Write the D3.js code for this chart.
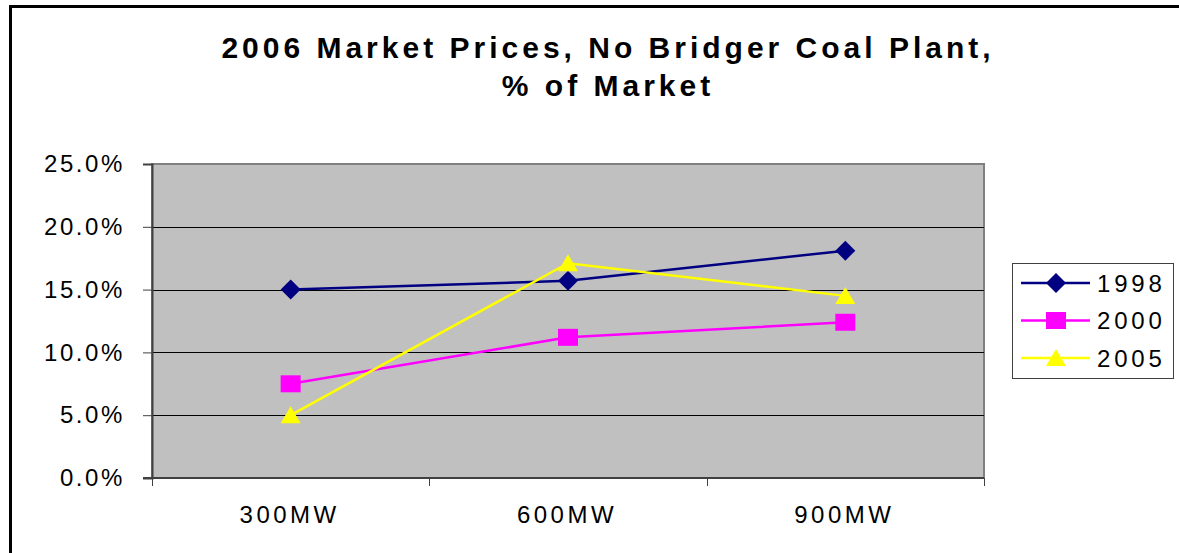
<!DOCTYPE html>
<html>
<head>
<meta charset="utf-8">
<script src="https://cdn.jsdelivr.net/npm/d3@7"></script>
<style>
  body { margin: 0; background: #fff; }
  text { font-family: "Liberation Sans", Arial, sans-serif; }
</style>
</head>
<body>
<script>
// Chart data
var categories = ["300MW", "600MW", "900MW"];
var seriesNames = ["1998", "2000", "2005"];
var values1998 = [0.150, 0.157, 0.181];
var values2000 = [0.075, 0.112, 0.124];
var values2005 = [0.050, 0.171, 0.145];
var yTicks = [0, 0.05, 0.10, 0.15, 0.20, 0.25];
var titleLines = ["2006 Market Prices, No Bridger Coal Plant,", "% of Market"];

var svgWidth = 1179;
var svgHeight = 553;

// plot area in pixels
var plot = { left: 152, top: 164, right: 984, bottom: 478 };

var svg = d3.select("body")
  .append("svg")
  .attr("width", svgWidth)
  .attr("height", svgHeight);

// outer chart frame (only top and left are visible in the window)
svg.append("rect")
  .attr("x", 10.5)
  .attr("y", 6.5)
  .attr("width", 1400)
  .attr("height", 700)
  .attr("fill", "#fff")
  .attr("stroke", "#000")
  .attr("stroke-width", 3);

// title
svg.append("text")
  .attr("x", 608)
  .attr("y", 58)
  .attr("text-anchor", "middle")
  .selectAll("tspan")
  .data(titleLines)
  .enter()
  .append("tspan")
  .attr("x", 608)
  .attr("dy", (d, i) => i === 0 ? 0 : 38)
  .attr("font-size", "30px")
  .attr("font-weight", "bold")
  .attr("letter-spacing", "4px")
  .text(d => d);

var xScale = d3.scaleBand()
  .domain(categories)
  .range([plot.left, plot.right]);

var yScale = d3.scaleLinear()
  .domain([0, 0.25])
  .range([plot.bottom, plot.top]);

var xCenter = d => xScale(d) + xScale.bandwidth() / 2;

// plot background
svg.append("rect")
  .attr("x", plot.left)
  .attr("y", plot.top)
  .attr("width", plot.right - plot.left)
  .attr("height", plot.bottom - plot.top)
  .attr("fill", "#c0c0c0")
  .attr("stroke", "#808080")
  .attr("stroke-width", 2);

// gridlines
svg.append("g")
  .selectAll("line")
  .data(yTicks.filter(t => t > 0 && t < 0.25))
  .enter()
  .append("line")
  .attr("x1", plot.left)
  .attr("x2", plot.right)
  .attr("y1", d => Math.round(yScale(d)) + 0.5)
  .attr("y2", d => Math.round(yScale(d)) + 0.5)
  .attr("stroke", "#000")
  .attr("stroke-width", 1);

// left axis
var leftAxis = d3.axisLeft(yScale)
  .tickValues(yTicks)
  .tickFormat(d3.format(".1%"))
  .tickSize(9)
  .tickPadding(18);

var yAxisG = svg.append("g")
  .attr("transform", `translate(${plot.left}, 0)`)
  .call(leftAxis);
yAxisG.select(".domain").attr("stroke", "#404040").attr("stroke-width", 2);
yAxisG.selectAll(".tick line").attr("stroke", "#404040");
yAxisG.selectAll(".tick text")
  .attr("font-size", "24px")
  .attr("letter-spacing", "2.6px")
  .attr("fill", "#000")
  .attr("font-family", "Liberation Sans, Arial, sans-serif");

// bottom axis: ticks at band edges
var bottomG = svg.append("g");
bottomG.append("line")
  .attr("x1", plot.left - 9)
  .attr("x2", plot.right)
  .attr("y1", plot.bottom)
  .attr("y2", plot.bottom)
  .attr("stroke", "#404040")
  .attr("stroke-width", 2);
var edges = categories.map(c => xScale(c)).concat([xScale(categories[categories.length - 1]) + xScale.bandwidth()]);
bottomG.selectAll(".xtick")
  .data(edges)
  .enter()
  .append("line")
  .attr("x1", d => Math.round(d) + 0.5)
  .attr("x2", d => Math.round(d) + 0.5)
  .attr("y1", plot.bottom)
  .attr("y2", plot.bottom + 8)
  .attr("stroke", "#404040");
bottomG.selectAll(".xlabel")
  .data(categories)
  .enter()
  .append("text")
  .attr("x", d => xCenter(d) - 1)
  .attr("y", 523)
  .attr("text-anchor", "middle")
  .attr("font-size", "24px")
  .attr("letter-spacing", "3.5px")
  .text(d => d);

// series
var series = [
  { name: seriesNames[0], values: values1998, color: "#000080", shape: "diamond" },
  { name: seriesNames[1], values: values2000, color: "#ff00ff", shape: "square" },
  { name: seriesNames[2], values: values2005, color: "#ffff00", shape: "triangle" }
];

function markerPath(shape) {
  if (shape === "diamond") return "M0,-10L10,0L0,10L-10,0Z";
  if (shape === "square") return "M-10,-8.5H10V8.5H-10Z";
  return "M0,-9L10,8H-10Z";
}

var line = d3.line()
  .x((d, i) => xCenter(categories[i]))
  .y(d => yScale(d));

series.forEach(function(s) {
  var g = svg.append("g");
  g.append("path")
    .attr("d", line(s.values))
    .attr("fill", "none")
    .attr("stroke", s.color)
    .attr("stroke-width", 2.5);
  g.selectAll(".mk")
    .data(s.values)
    .enter()
    .append("path")
    .attr("transform", (d, i) => `translate(${xCenter(categories[i])}, ${yScale(d)})`)
    .attr("d", markerPath(s.shape))
    .attr("fill", s.color);
});

// legend
var legend = svg.append("g");
legend.append("rect")
  .attr("x", 1012.5)
  .attr("y", 263.5)
  .attr("width", 161)
  .attr("height", 115)
  .attr("fill", "#fff")
  .attr("stroke", "#404040")
  .attr("stroke-width", 1);

var legendRows = legend.selectAll(".row")
  .data(series)
  .enter()
  .append("g")
  .attr("transform", (d, i) => `translate(0, ${283 + i * 37.5})`);
legendRows.append("line")
  .attr("x1", 1021)
  .attr("x2", 1090)
  .attr("y1", 0)
  .attr("y2", 0)
  .attr("stroke", d => d.color)
  .attr("stroke-width", 2.5);
legendRows.append("path")
  .attr("transform", "translate(1056, 0)")
  .attr("d", d => markerPath(d.shape))
  .attr("fill", d => d.color);
legendRows.append("text")
  .attr("x", 1097)
  .attr("y", 0)
  .attr("dy", "0.36em")
  .attr("font-size", "24px")
  .attr("letter-spacing", "3.8px")
  .text(d => d.name);
</script>
</body>
</html>
